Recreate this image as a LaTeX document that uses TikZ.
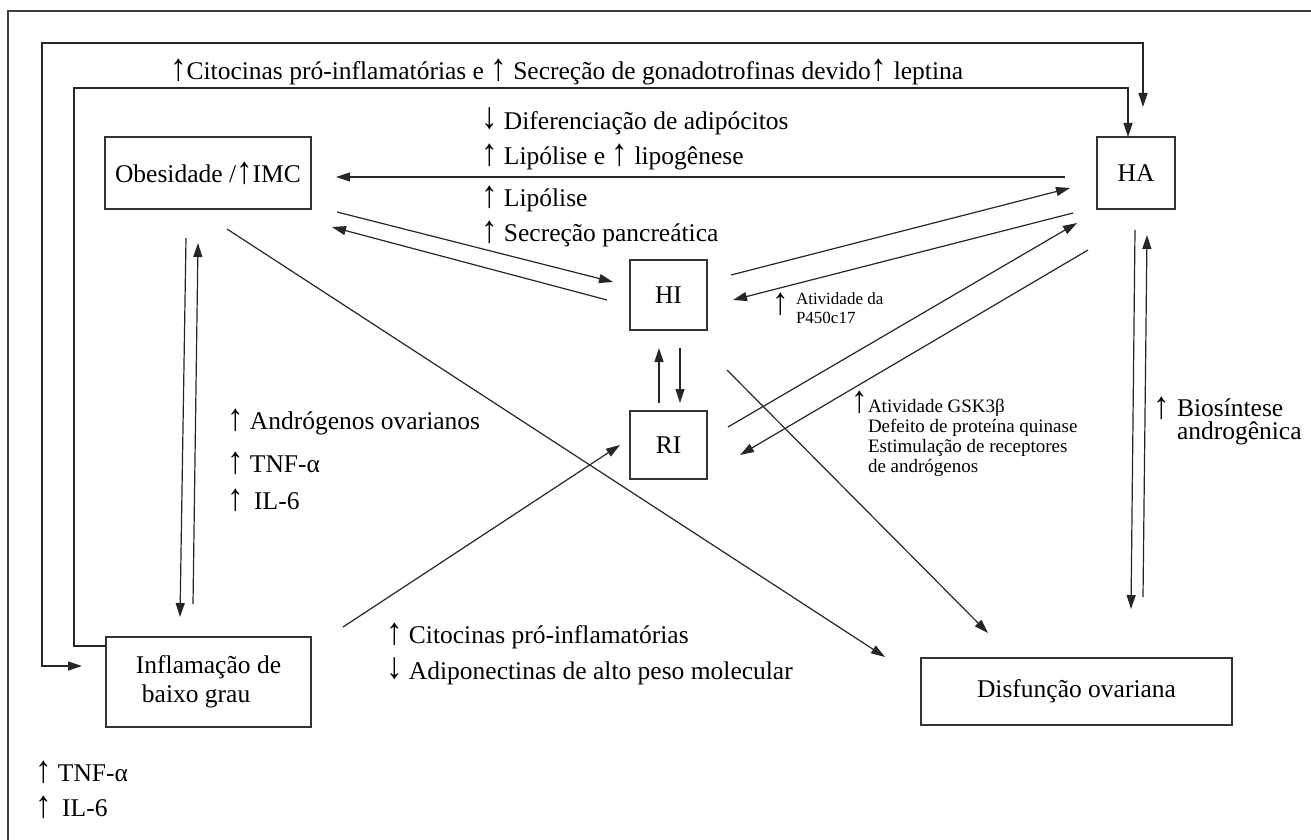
\documentclass[tikz,border=0pt]{standalone}
\usepackage{fontspec}
\setmainfont{Liberation Serif}
\usetikzlibrary{arrows.meta}
\newcommand\upar{\raisebox{-0.5pt}{\scalebox{1.3}[1.5]{↑}}}
\newcommand\dnar{\raisebox{1pt}{\scalebox{1.3}[1.45]{↓}}}
\begin{document}
\begin{tikzpicture}[x=1pt,y=-1pt,
  every node/.style={inner sep=0pt, outer sep=0pt},
  box/.style={draw=black!80, line width=1.4pt, font=\fontsize{25.5}{29}\selectfont, align=center},
  ln/.style={line width=1.2pt, draw=black!85},
  arr/.style={ln, -{Triangle[length=14pt,width=9pt]}},
  dbl/.style={ln, {Triangle[length=14pt,width=9pt]}-{Triangle[length=14pt,width=9pt]}},
  big/.style={font=\fontsize{25.5}{30}\selectfont, anchor=west, align=left},
  small/.style={font=\fontsize{19}{20}\selectfont, anchor=west, align=left},
  tiny/.style={font=\fontsize{17}{19}\selectfont, anchor=west, align=left},
]
\useasboundingbox (0,0) rectangle (1311,840);
\draw[line width=1.4pt, black!75] (8,870) -- (8,11) -- (1340,11);

% boxes
\node[box, minimum width=206pt, minimum height=72pt] (obes) at (208,173) {Obesidade /\upar IMC};
\node[box, minimum width=78pt, minimum height=72pt] (ha) at (1136,173) {HA};
\node[box, minimum width=77pt, minimum height=70pt] (hi) at (668.5,295) {HI};
\node[box, minimum width=77pt, minimum height=68pt] (ri) at (668.5,445) {RI};
\node[box, minimum width=205pt, minimum height=90pt, align=left] (infl) at (208.5,682) {Inflamação de\\\hspace*{6pt}baixo grau};
\node[box, minimum width=311pt, minimum height=67pt] (disf) at (1076.5,691.5) {Disfunção ovariana};

% connector end points
\coordinate (l1s) at (82,666); \coordinate (l1c) at (42,43); \coordinate (l1e) at (1143,107);
\coordinate (l2s) at (106,646); \coordinate (l2c) at (74,88); \coordinate (l2e) at (1128,137);
\coordinate (haobA) at (1065,177); \coordinate (haobB) at (336,177);
\coordinate (obhiA) at (337,212); \coordinate (obhiB) at (613,282);
\coordinate (hiobA) at (607,300); \coordinate (hiobB) at (332,227);
\coordinate (hihaA) at (731,275); \coordinate (hihaB) at (1070,188);
\coordinate (hahiA) at (1073,213); \coordinate (hahiB) at (733,300);
\coordinate (rihaA) at (728,427); \coordinate (rihaB) at (1077,223);
\coordinate (hariA) at (1088,250); \coordinate (hariB) at (740,455);
\coordinate (hiriA) at (680,348); \coordinate (hiriB) at (680,403);
\coordinate (rihiA) at (659,403); \coordinate (rihiB) at (659,348);
\coordinate (obdfA) at (227,229); \coordinate (obdfB) at (885,657);
\coordinate (hidfA) at (727,370); \coordinate (hidfB) at (988,633);
\coordinate (obinA) at (186,238); \coordinate (obinB) at (180,617);
\coordinate (inobA) at (193,604); \coordinate (inobB) at (198,243);
\coordinate (hadfA) at (1135,230); \coordinate (hadfB) at (1131,609);
\coordinate (dfhaA) at (1143,597); \coordinate (dfhaB) at (1147,235);
\coordinate (inriA) at (343,627); \coordinate (inriB) at (620,445);

% connectors
\draw[dbl] (l1s) -| (l1c) -| (l1e);
\draw[arr] (l2s) -| (l2c) -| (l2e);
\draw[arr] (haobA) -- (haobB);
\draw[arr] (obhiA) -- (obhiB);
\draw[arr] (hiobA) -- (hiobB);
\draw[arr] (hihaA) -- (hihaB);
\draw[arr] (hahiA) -- (hahiB);
\draw[arr] (rihaA) -- (rihaB);
\draw[arr] (hariA) -- (hariB);
\draw[arr] (hiriA) -- (hiriB);
\draw[arr] (rihiA) -- (rihiB);
\draw[arr] (obdfA) -- (obdfB);
\draw[arr] (hidfA) -- (hidfB);
\draw[arr] (obinA) -- (obinB);
\draw[arr] (inobA) -- (inobB);
\draw[arr] (hadfA) -- (hadfB);
\draw[arr] (dfhaA) -- (dfhaB);
\draw[arr] (inriA) -- (inriB);

% labels
\node[big] (ttop) at (170,72) {\upar Citocinas pró-inflamatórias e \upar\ Secreção de gonadotrofinas devido\upar\ leptina};
\node[big] (tdif) at (481,121) {\dnar\ Diferenciação de adipócitos};
\node[big] (tlip1) at (481,157) {\upar\ Lipólise e \upar\ lipogênese};
\node[big] (tlip2) at (481,199) {\upar\ Lipólise};
\node[big] (tpan) at (481,234) {\upar\ Secreção pancreática};
\node[big] (ap450) at (772,304) {\upar};
\node[tiny] (tp450) at (796,308) {Atividade da\\P450c17};
\node[big] (agsk) at (851,402) {\upar};
\node[small] (tgsk) at (868,438) {Atividade GSK3β\\Defeito de proteína quinase\\Estimulação de receptores\\de andrógenos};
\node[big] (tand) at (227,422) {\upar\ Andrógenos ovarianos};
\node[big] (ttnf1) at (227,463) {\upar\ TNF-α};
\node[big] (til1) at (227,500) {\upar\ \,IL-6};
\node[big] (abio) at (1153,408) {\upar};
\node[big, font=\fontsize{25.5}{23}\selectfont] (tbio) at (1177,421.5) {Biosíntese\\androgênica};
\node[big] (tcit) at (386,636) {\upar\ Citocinas pró-inflamatórias};
\node[big] (tadi) at (386,671) {\dnar\ Adiponectinas de alto peso molecular};
\node[big] (ttnf2) at (35,772) {\upar\ TNF-α};
\node[big] (til2) at (35,807) {\upar\ \,IL-6};
\end{tikzpicture}
\end{document}
